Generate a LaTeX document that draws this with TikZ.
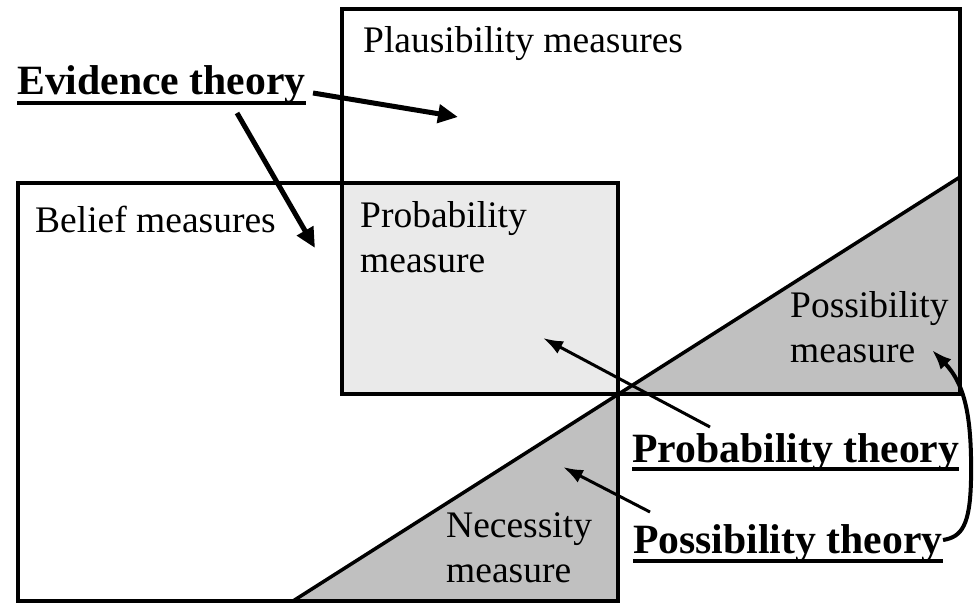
\documentclass[tikz,border=0pt]{standalone}
\usepackage{fontspec}
\setmainfont{Liberation Serif}
\usetikzlibrary{arrows.meta}
\definecolor{lightfill}{HTML}{EAEAEA}
\definecolor{midfill}{HTML}{C0C0C0}
\begin{document}
\begin{tikzpicture}[x=1pt,y=-1pt,
  lbl/.style={inner sep=0pt, anchor=base west, align=left, font=\fontsize{37.5}{44.5}\selectfont},
  theory/.style={inner sep=0pt, anchor=base west, font=\fontsize{41.7}{50}\selectfont\bfseries},
  box/.style={draw=black, line width=3.5pt},
  bigarrow/.style={line width=5pt, -{Triangle[length=20pt,width=18pt]}},
  thinarrow/.style={line width=3pt, -{Latex[length=20pt,width=14pt]}},
  curvearrow/.style={line width=4pt, -{Latex[length=20pt,width=15pt]}},
  uline/.style={line width=4pt}]
\useasboundingbox (0,0) rectangle (976,604);
% geometry
\coordinate (plnw) at (342,9);
\coordinate (plse) at (960,394);
\coordinate (benw) at (18,183);
\coordinate (bese) at (618,601);
\coordinate (dA) at (293,601);
\coordinate (dB) at (960,177);
\coordinate (cc) at (618,394);
% fills
\fill[lightfill] (342,183) rectangle (618,394);
\fill[midfill] (dA) -- (cc) -- (618,601) -- cycle;
\fill[midfill] (cc) -- (dB) -- (960,394) -- cycle;
% boxes
\draw[box] (plnw) rectangle (plse);
\draw[box] (benw) rectangle (bese);
\draw[box] (dA) -- (dB);
% labels (base anchor = baseline of last line)
\node[lbl] (plaus) at (363,53) {Plausibility measures};
\node[lbl] (belief) at (35,232) {Belief measures};
\node[lbl] (prob) at (360,272) {Probability\\measure};
\node[lbl] (poss) at (790,362) {Possibility\\measure};
\node[lbl] (nec) at (446,582) {Necessity\\measure};
% theories
\node[theory] (ev) at (17,95) {Evidence theory};
\node[theory] (pt) at (632,462) {Probability theory};
\node[theory] (pst) at (633,553) {Possibility theory};
\draw[uline] ([yshift=-8pt]ev.base west) -- ([yshift=-8pt]ev.base east);
\draw[uline] ([yshift=-7pt]pt.base west) -- ([yshift=-7pt]pt.base east);
\draw[uline] ([yshift=-8pt]pst.base west) -- ([yshift=-8pt]pst.base east);
% arrow ends
\coordinate (evA) at (313,93);
\coordinate (evB) at (237,113);
\coordinate (tipPl) at (458,117);
\coordinate (tipBe) at (315,248);
\coordinate (ptS) at (710,427);
\coordinate (tipPr) at (543,338);
\coordinate (pstS) at (650,512);
\coordinate (tipNe) at (563,467);
\coordinate (pstE) at (943,540);
\coordinate (tipPo) at (932,350);
% arrows
\draw[bigarrow] (evA) -- (tipPl);
\draw[bigarrow] (evB) -- (tipBe);
\draw[thinarrow] (ptS) -- (tipPr);
\draw[thinarrow] (pstS) -- (tipNe);
\draw[curvearrow] (pstE) .. controls (962,537) and (970,525) .. (971,480)
  .. controls (972,420) and (966,385) .. (tipPo);
\end{tikzpicture}
\end{document}
